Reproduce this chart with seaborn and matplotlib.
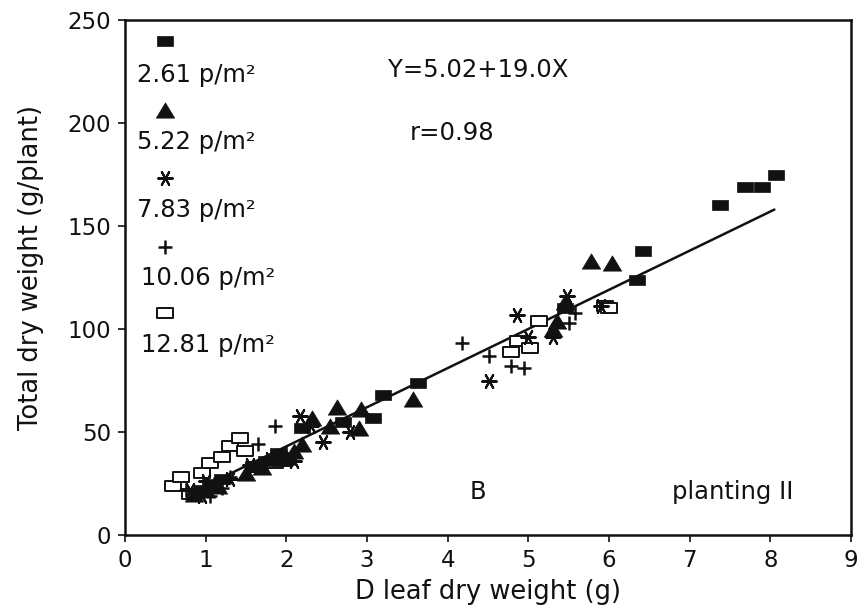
import numpy as np
import pandas as pd
import matplotlib
matplotlib.use("Agg")
import matplotlib.pyplot as plt
from matplotlib.path import Path
import seaborn as sns

# ---------------- data ----------------
densities = ["2.61 p/m²", "5.22 p/m²", "7.83 p/m²", "10.06 p/m²", "12.81 p/m²"]

x_261 = [0.95, 1.05, 1.2, 1.6, 1.75, 1.9, 2.19, 2.7, 3.08, 3.2, 3.63, 5.45, 6.35, 6.42, 7.38, 7.69, 7.9, 8.07]
y_261 = [22, 25, 27, 33, 36, 40, 52, 55, 57, 68, 74, 110, 124, 138, 160, 169, 169, 175]

x_522 = [0.85, 1.0, 1.15, 1.5, 1.7, 1.9, 2.0, 2.1, 2.19, 2.32, 2.54, 2.63, 2.9, 2.92, 3.57, 5.3, 5.36, 5.45, 5.78, 6.04]
y_522 = [20, 22, 24, 30, 33, 38, 38, 41, 44, 57, 53, 62, 52, 61, 66, 100, 104, 113, 133, 132]

x_783 = [0.8, 0.95, 1.0, 1.3, 1.55, 1.8, 2.1, 2.17, 2.3, 2.46, 2.79, 4.51, 4.86, 5.0, 5.31, 5.48, 5.9]
y_783 = [22, 19, 26, 27, 34, 37, 36, 58, 53, 45, 50, 75, 107, 96, 96, 116, 111]

x_1006 = [0.75, 0.9, 1.05, 1.1, 1.2, 1.3, 1.65, 1.86, 2.0, 4.18, 4.51, 4.78, 4.95, 5.5, 5.58]
y_1006 = [22, 20, 19, 25, 23, 28, 44, 53, 40, 93, 87, 82, 81, 103, 108]

x_1281 = [0.6, 0.7, 0.8, 0.95, 1.05, 1.2, 1.3, 1.43, 1.49, 1.6, 1.86, 1.96, 4.79, 4.87, 5.02, 5.13, 5.95, 6.0]
y_1281 = [24, 28, 20, 30, 35, 38, 43, 47, 41, 33, 35, 36, 89, 94, 91, 104, 111, 110]

fit_intercept = 5.02
fit_slope = 19.0
fit_x = [0.75, 8.05]

x_ticks = list(range(0, 10))
y_ticks = [0, 50, 100, 150, 200, 250]

# ---------------- styling ----------------
sns.set_theme(style="ticks")
plt.rcParams["font.family"] = ["DejaVu Sans"]
FS_TICK = 16.5
FS_TEXT = 17.5
FS_LABEL = 18.5
INK = "#111111"

rect = Path([(-1, -0.65), (1, -0.65), (1, 0.65), (-1, 0.65), (-1, -0.65)], closed=True)
tri = Path([(0, 0.83), (-1, -0.83), (1, -0.83), (0, 0.83)], closed=True)
star = (6, 2, 90)

styles = [
    dict(marker=rect, s=120, color=INK, edgecolor=INK, linewidth=0.5),
    dict(marker=tri, s=175, color=INK, edgecolor=INK, linewidth=0.5),
    dict(marker=star, s=110, color=INK, edgecolor=INK, linewidth=1.5),
    dict(marker="+", s=110, color=INK, linewidth=1.8),
    dict(marker=rect, s=120, facecolor="white", edgecolor=INK, linewidth=1.4),
]

series = [(x_261, y_261), (x_522, y_522), (x_783, y_783), (x_1006, y_1006), (x_1281, y_1281)]
frames = []
for lab, (xs, ys) in zip(densities, series):
    frames.append(pd.DataFrame({"x": xs, "y": ys, "density": lab}))
df = pd.concat(frames, ignore_index=True)

fig = plt.figure(figsize=(8.58, 6.12), dpi=100)
ax = fig.add_axes([125 / 858, 1 - 535 / 612, 726 / 858, 515 / 612])

# regression line
lx = np.array(fit_x)
ax.plot(lx, fit_intercept + fit_slope * lx, color=INK, lw=1.8, zorder=1)

# open squares first so filled marks sit on top in the cluster
for i in [4, 3, 2, 1, 0]:
    sub = df[df["density"] == densities[i]]
    sns.scatterplot(data=sub, x="x", y="y", ax=ax, legend=False, zorder=2, **styles[i])

ax.set_xlim(0, 9)
ax.set_ylim(0, 250)
ax.set_xticks(x_ticks)
ax.set_yticks(y_ticks)
ax.tick_params(direction="out", length=5, width=1.2, labelsize=FS_TICK, colors=INK, pad=5)
for sp in ax.spines.values():
    sp.set_visible(True)
    sp.set_linewidth(1.8)
    sp.set_color(INK)

ax.set_xlabel("D leaf dry weight (g)", fontsize=FS_LABEL, color=INK, labelpad=5)
ax.set_ylabel("Total dry weight (g/plant)", fontsize=FS_LABEL, color=INK)
ax.yaxis.set_label_coords(-0.112, 0.52)

# in-plot legend (marker above label)
leg_marker_y = [0.96, 0.825, 0.693, 0.56, 0.431]
leg_text_y = [0.893, 0.764, 0.631, 0.499, 0.369]
leg_text_x = [0.017, 0.017, 0.017, 0.022, 0.022]
for i, lab in enumerate(densities):
    ax.scatter([0.055], [leg_marker_y[i]], transform=ax.transAxes, clip_on=False, zorder=5, **styles[i])
    ax.text(leg_text_x[i], leg_text_y[i], lab, transform=ax.transAxes, fontsize=FS_TEXT,
            color=INK, ha="left", va="center")

ax.text(0.362, 0.903, "Y=5.02+19.0X", transform=ax.transAxes, fontsize=FS_TEXT, color=INK,
        ha="left", va="center")
ax.text(0.392, 0.78, "r=0.98", transform=ax.transAxes, fontsize=FS_TEXT, color=INK,
        ha="left", va="center")
ax.text(0.486, 0.084, "B", transform=ax.transAxes, fontsize=FS_TEXT, color=INK,
        ha="center", va="center")
ax.text(0.837, 0.084, "planting II", transform=ax.transAxes, fontsize=FS_TEXT, color=INK,
        ha="center", va="center")

fig.savefig("out.png", dpi=100, facecolor="white")
